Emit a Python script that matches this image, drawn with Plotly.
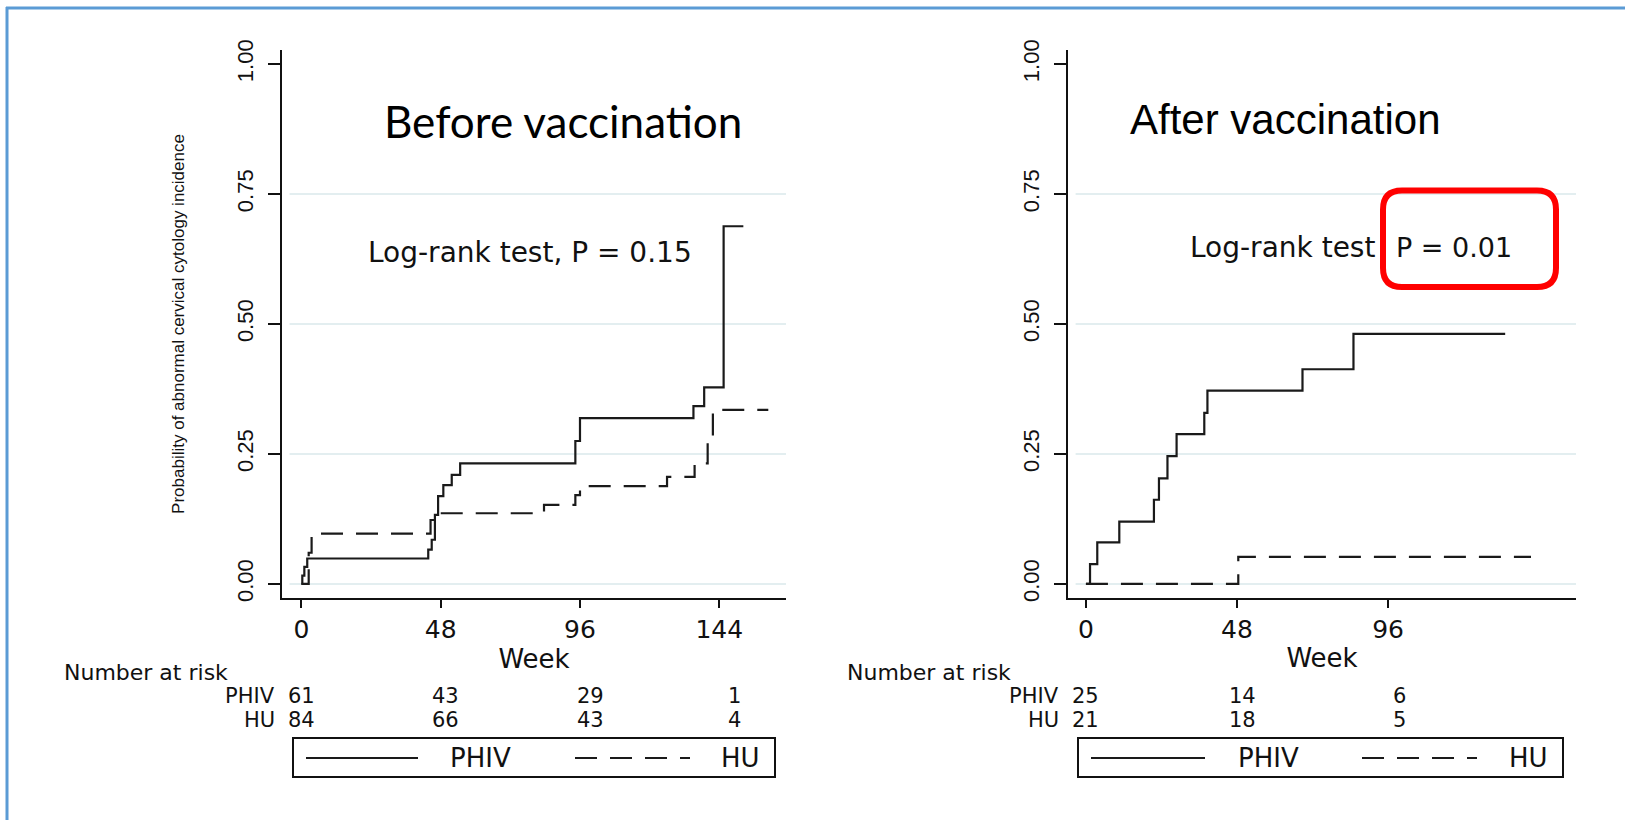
import plotly.graph_objects as go

# ---------------- data ----------------
# Before vaccination (left panel) – Kaplan-Meier cumulative incidence steps
left_phiv_week = [0, 0.3, 1, 2, 43.7, 44.9, 46.0, 47.1, 48.9, 51.8, 54.7, 94.4, 96.0, 135.1, 138.8, 145.5, 152.3]
left_phiv_prob = [0, 0.016, 0.033, 0.049, 0.066, 0.085, 0.133, 0.169, 0.19, 0.21, 0.232, 0.275, 0.319, 0.342, 0.378, 0.688, 0.688]
left_hu_week = [0, 2.5, 3.5, 44.5, 46.0, 83.6, 94.4, 96.0, 126.0, 135.5, 140.0, 141.8, 160.9]
left_hu_prob = [0, 0.06, 0.097, 0.123, 0.136, 0.152, 0.171, 0.188, 0.206, 0.232, 0.283, 0.335, 0.335]

# After vaccination (right panel)
right_phiv_week = [0, 1.3, 3.6, 10.6, 21.6, 23.2, 25.9, 28.8, 37.6, 38.6, 68.8, 85.0, 133.2]
right_phiv_prob = [0, 0.038, 0.080, 0.120, 0.162, 0.203, 0.246, 0.288, 0.329, 0.372, 0.413, 0.481, 0.481]
right_hu_week = [0, 48.4, 141.4]
right_hu_prob = [0, 0.052, 0.052]

# Number at risk tables
risk_weeks_left = [0, 48, 96, 144]
risk_phiv_left = [61, 43, 29, 1]
risk_hu_left = [84, 66, 43, 4]
risk_weeks_right = [0, 48, 96]
risk_phiv_right = [25, 14, 6]
risk_hu_right = [21, 18, 5]

# Axis ticks
x_ticks_left = [0, 48, 96, 144]
x_ticks_right = [0, 48, 96]
y_ticks = [0, 0.25, 0.5, 0.75, 1.0]
y_tick_text = ["0.00", "0.25", "0.50", "0.75", "1.00"]
grid_vals = [0, 0.25, 0.5, 0.75]

panel_titles = ["Before vaccination", "After vaccination"]
logrank_left = "Log-rank test, P = 0.15"
logrank_right = ["Log-rank test", "P = 0.01"]
group_names = ["PHIV", "HU"]

# ---------------- layout helpers ----------------
W, H = 1625, 820
def px(x):
    return x / W
def py(y):
    return 1 - y / H

FONT = "DejaVu Sans"
ARIAL = "Liberation Sans"
INK = "#111111"
LINE = "#1a1a1a"
DASH = "22px,13px"

fig = go.Figure()

panels = [
    dict(xa="x", ya="y", phiv=(left_phiv_week, left_phiv_prob), hu=(left_hu_week, left_hu_prob)),
    dict(xa="x2", ya="y2", phiv=(right_phiv_week, right_phiv_prob), hu=(right_hu_week, right_hu_prob)),
]
for p in panels:
    fig.add_trace(go.Scatter(x=p["phiv"][0], y=p["phiv"][1], mode="lines", line_shape="hv",
                             line=dict(color=LINE, width=2.2), name="PHIV", showlegend=False,
                             xaxis=p["xa"], yaxis=p["ya"]))
    fig.add_trace(go.Scatter(x=p["hu"][0], y=p["hu"][1], mode="lines", line_shape="hv",
                             line=dict(color=LINE, width=2.2, dash=DASH), name="HU", showlegend=False,
                             xaxis=p["xa"], yaxis=p["ya"]))

ydom = [py(598), py(50)]
common_x = dict(showline=True, linecolor=INK, linewidth=2, ticks="outside", ticklen=8, tickwidth=2,
                tickcolor=INK, showgrid=False, zeroline=False, automargin=False,
                tickfont=dict(family=FONT, size=25, color=INK))
common_y = dict(showline=True, linecolor=INK, linewidth=2, ticks="outside", ticklen=12, tickwidth=2,
                tickcolor=INK, showgrid=False, zeroline=False, range=[-0.027, 1.027], automargin=False,
                tickvals=y_ticks, ticktext=y_tick_text, tickangle=-90, ticklabelstandoff=6,
                tickfont=dict(family=ARIAL, size=22, color=INK))

fig.update_layout(
    width=W, height=H, autosize=False,
    margin=dict(l=0, r=0, t=0, b=0, pad=0, autoexpand=False),
    paper_bgcolor="white", plot_bgcolor="white", showlegend=False,
    xaxis=dict(domain=[px(282), px(786)], range=[-6.7, 167], tickvals=x_ticks_left, anchor="y",
               title=dict(text="Week", font=dict(family=FONT, size=26, color=INK), standoff=6), **common_x),
    yaxis=dict(domain=ydom, anchor="x",
               title=dict(text="Probability of abnormal cervical cytology incidence",
                          font=dict(family=ARIAL, size=17, color=INK), standoff=44), **common_y),
    xaxis2=dict(domain=[px(1068), px(1576)], range=[-5.7, 155.7], tickvals=x_ticks_right, anchor="y2",
                title=dict(text="Week", font=dict(family=FONT, size=26, color=INK), standoff=6), **common_x),
    yaxis2=dict(domain=ydom, anchor="x2", **common_y),
)

shapes = []
# grid lines
for xa, ya in (("x", "y"), ("x2", "y2")):
    for g in grid_vals:
        shapes.append(dict(type="line", xref=f"{xa} domain", yref=ya, x0=0.015, x1=1, y0=g, y1=g,
                           line=dict(color="#e3eef0", width=2), layer="below"))

# slide border (top and left)
shapes.append(dict(type="line", xref="paper", yref="paper", x0=px(6), x1=1, y0=py(8), y1=py(8),
                   line=dict(color="#5b9bd5", width=3)))
shapes.append(dict(type="line", xref="paper", yref="paper", x0=px(7), x1=px(7), y0=py(7), y1=0,
                   line=dict(color="#5b9bd5", width=3)))

# red rounded highlight box
x0, x1, y0, y1, r = 1383, 1556, 190.5, 287, 19
path = (f"M{px(x0 + r)},{py(y0)} L{px(x1 - r)},{py(y0)} Q{px(x1)},{py(y0)} {px(x1)},{py(y0 + r)} "
        f"L{px(x1)},{py(y1 - r)} Q{px(x1)},{py(y1)} {px(x1 - r)},{py(y1)} "
        f"L{px(x0 + r)},{py(y1)} Q{px(x0)},{py(y1)} {px(x0)},{py(y1 - r)} "
        f"L{px(x0)},{py(y0 + r)} Q{px(x0)},{py(y0)} {px(x0 + r)},{py(y0)} Z")
shapes.append(dict(type="path", xref="paper", yref="paper", path=path,
                   line=dict(color="#ff0000", width=6), layer="above"))

# legend boxes (drawn manually)
legend_boxes = [
    dict(box=(293, 775), solid=(306, 418), dashed=(575, 690), lab=(480, 740)),
    dict(box=(1078, 1563), solid=(1091, 1205), dashed=(1362, 1477), lab=(1268, 1528.6)),
]
annotations = []
for lb in legend_boxes:
    shapes.append(dict(type="rect", xref="paper", yref="paper", x0=px(lb["box"][0]), x1=px(lb["box"][1]),
                       y0=py(777), y1=py(738), line=dict(color=INK, width=2)))
    shapes.append(dict(type="line", xref="paper", yref="paper", x0=px(lb["solid"][0]), x1=px(lb["solid"][1]),
                       y0=py(758), y1=py(758), line=dict(color=LINE, width=2.2)))
    shapes.append(dict(type="line", xref="paper", yref="paper", x0=px(lb["dashed"][0]), x1=px(lb["dashed"][1]),
                       y0=py(758), y1=py(758), line=dict(color=LINE, width=2.2, dash=DASH)))
    for name, cx in zip(group_names, lb["lab"]):
        annotations.append(dict(xref="paper", yref="paper", x=px(cx), y=py(758), text=name,
                                showarrow=False, xanchor="center", yanchor="middle",
                                font=dict(family=FONT, size=26, color=INK)))

# panel titles
annotations.append(dict(xref="paper", yref="paper", x=px(563), y=py(121), text=panel_titles[0],
                        showarrow=False, xanchor="center", yanchor="middle",
                        font=dict(family="Lato", size=44, color="#000000")))
annotations.append(dict(xref="paper", yref="paper", x=px(1285), y=py(119), text=panel_titles[1],
                        showarrow=False, xanchor="center", yanchor="middle",
                        font=dict(family=ARIAL, size=42, color="#000000")))
# log-rank texts
annotations.append(dict(xref="paper", yref="paper", x=px(530), y=py(252), text=logrank_left,
                        showarrow=False, xanchor="center", yanchor="middle",
                        font=dict(family=FONT, size=28, color=INK)))
annotations.append(dict(xref="paper", yref="paper", x=px(1377), y=py(247), text=logrank_right[0],
                        showarrow=False, xanchor="right", yanchor="middle",
                        font=dict(family=FONT, size=28, color=INK)))
annotations.append(dict(xref="paper", yref="paper", x=px(1394), y=py(247), text=logrank_right[1],
                        showarrow=False, xanchor="left", yanchor="middle",
                        font=dict(family=FONT, size=27, color=INK)))

# number-at-risk tables
RISK_SCALE = 1.037
tables = [
    dict(xa="x", label_left=63, label_right=276, weeks=risk_weeks_left,
         rows=[risk_phiv_left, risk_hu_left]),
    dict(xa="x2", label_left=846, label_right=1060, weeks=risk_weeks_right,
         rows=[risk_phiv_right, risk_hu_right]),
]
row_y = [696, 720]
TBL = 21
for tb in tables:
    annotations.append(dict(xref="paper", yref="paper", x=px(tb["label_left"]), y=py(672),
                            text="Number at risk", showarrow=False, xanchor="left", yanchor="middle",
                            borderpad=0, font=dict(family=FONT, size=TBL + 1, color=INK)))
    for name, vals, yy in zip(group_names, tb["rows"], row_y):
        annotations.append(dict(xref="paper", yref="paper", x=px(tb["label_right"]), y=py(yy),
                                text=name, showarrow=False, xanchor="right", yanchor="middle",
                                borderpad=0, font=dict(family=FONT, size=TBL, color=INK)))
        for w, v in zip(tb["weeks"], vals):
            annotations.append(dict(xref=tb["xa"], yref="paper", x=w * RISK_SCALE, y=py(yy),
                                    text=str(v), showarrow=False, xanchor="center", yanchor="middle",
                                    borderpad=0, font=dict(family=FONT, size=TBL, color=INK)))

fig.update_layout(shapes=shapes, annotations=annotations)

post = ("document.body.style.margin='0';document.body.style.overflow='hidden';"
        "var d=document.querySelector('.plotly-graph-div');"
        "d.style.position='absolute';d.style.top='0px';d.style.left='0px';")
fig.write_html("out.html", config={"displayModeBar": False}, post_script=post)
